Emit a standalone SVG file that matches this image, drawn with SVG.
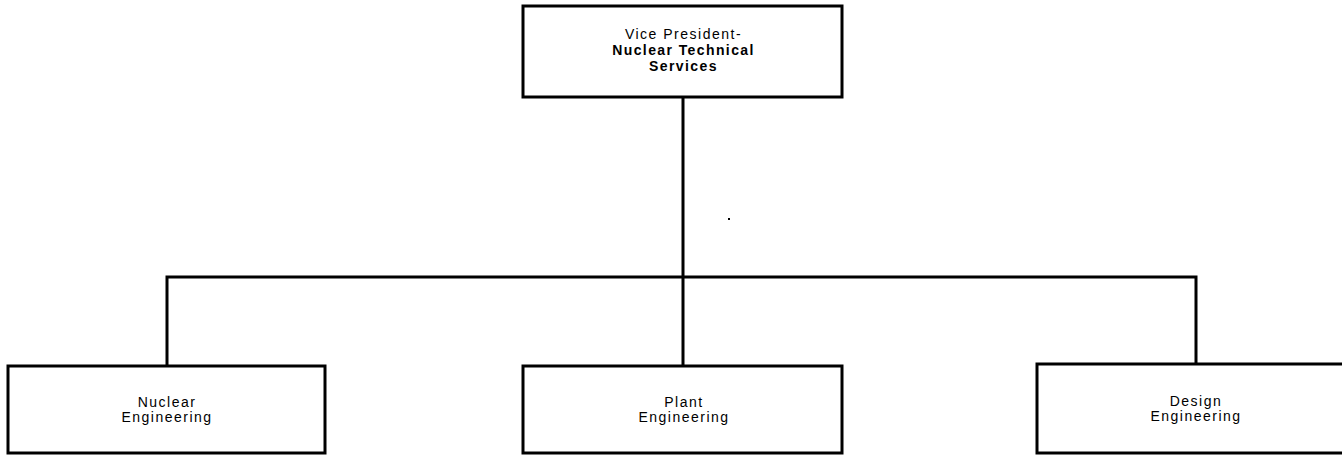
<svg xmlns="http://www.w3.org/2000/svg" width="1342" height="455" viewBox="0 0 1342 455">
<style>
.box{fill:#fff;stroke:#000;stroke-width:3}
.conn{fill:none;stroke:#000;stroke-width:3}
text{font-family:"Liberation Sans",Arial,sans-serif;font-size:14px;letter-spacing:1.5px;text-anchor:middle;fill:#000}
.b{font-weight:bold;letter-spacing:1.4px}
</style>
<rect width="1342" height="455" fill="#fff"/>
<g id="connectors">
<line class="conn" x1="683" y1="97" x2="683" y2="366"/>
<polyline class="conn" points="167,366 167,277 1196,277 1196,364"/>
<rect x="728" y="218" width="2" height="2" fill="#000"/>
</g>
<g id="vp">
<rect class="box" x="523" y="6" width="319" height="91"/>
<text x="683.5" y="39">Vice President-</text>
<text class="b" x="683.5" y="55">Nuclear Technical</text>
<text class="b" x="683.5" y="71">Services</text>
</g>
<g id="nuclear">
<rect class="box" x="8" y="366" width="317" height="87"/>
<text x="167" y="407">Nuclear</text>
<text x="167" y="422">Engineering</text>
</g>
<g id="plant">
<rect class="box" x="523" y="366" width="319" height="87"/>
<text x="684" y="407">Plant</text>
<text x="684" y="422">Engineering</text>
</g>
<g id="design">
<rect class="box" x="1037" y="364" width="318" height="89"/>
<text x="1196" y="406">Design</text>
<text x="1196" y="421">Engineering</text>
</g>
</svg>
